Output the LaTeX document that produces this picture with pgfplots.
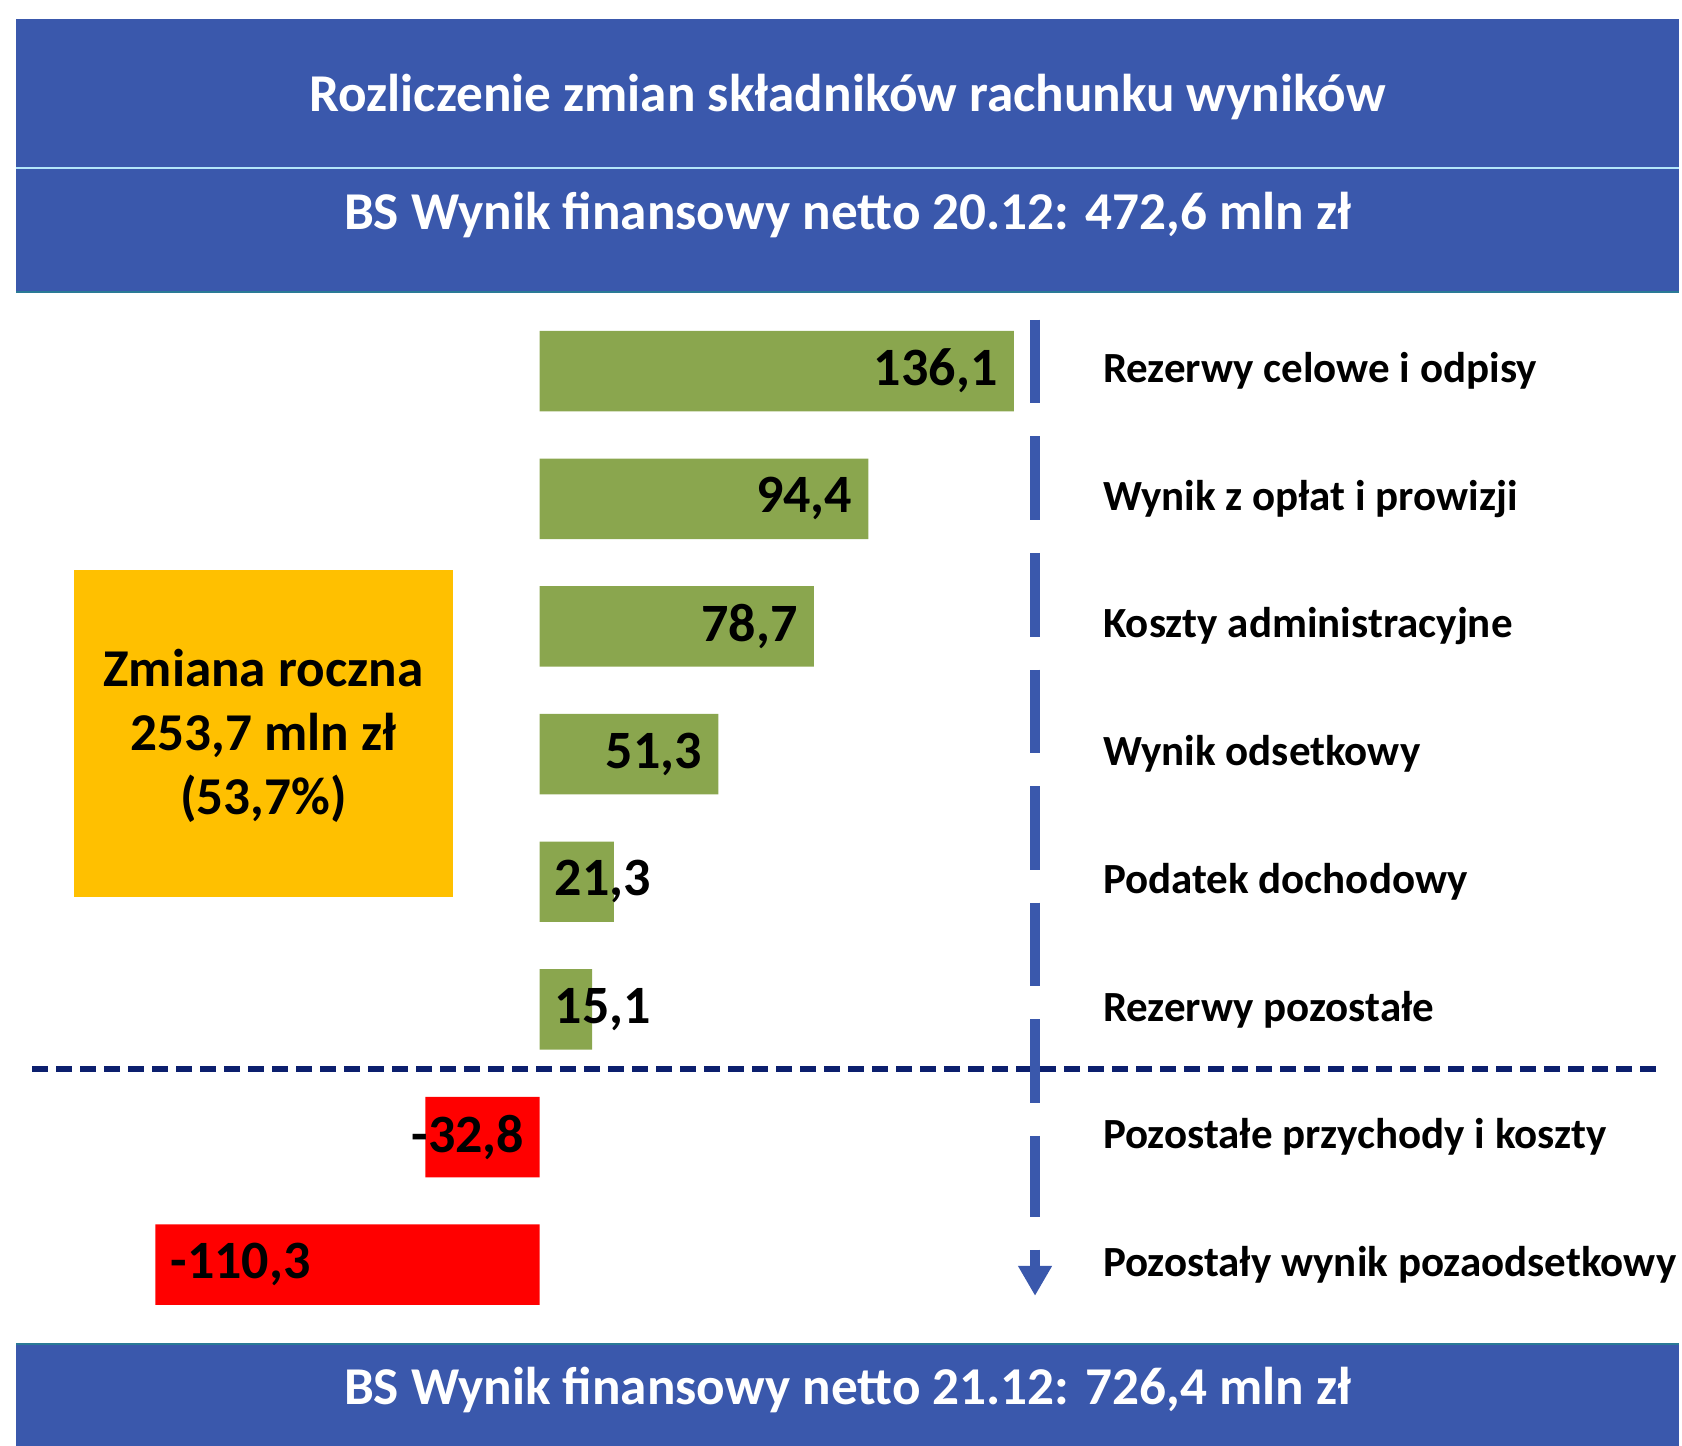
\documentclass[border=0pt]{standalone}
\usepackage{fontspec}
\setmainfont{Carlito}
\usepackage{pgfplots}
\pgfplotsset{compat=1.18}
\usetikzlibrary{arrows.meta}

\definecolor{bandBlue}{HTML}{3A58AC}
\definecolor{barGreen}{HTML}{8AA64E}
\definecolor{barRed}{HTML}{FF0000}
\definecolor{navy}{HTML}{0C1F6E}
\definecolor{boxOrange}{HTML}{FFC000}
\definecolor{edgeTeal}{HTML}{2A7A96}

\begin{document}
\begin{tikzpicture}
\begin{axis}[
    width=841pt, height=723pt, scale only axis,
    hide axis, clip=false,
    xmin=-154.87, xmax=327.89,
    ymin=-1.9076, ymax=9.4202,
    y dir=reverse,
    bar width=0.63, bar shift=0pt,
]
% bounding box
\path (rel axis cs:0,0) rectangle (rel axis cs:1,1);

% header / footer bands
\fill[bandBlue] (axis cs:-150.25,-1.756) rectangle (axis cs:326.97,0.378);
\draw[white!70!cyan, line width=1pt] (axis cs:-150.25,-0.588) -- (axis cs:326.97,-0.588);
\draw[edgeTeal, line width=1.2pt] (axis cs:-150.25,0.378) -- (axis cs:326.97,0.378);
\fill[bandBlue] (axis cs:-150.25,8.622) rectangle (axis cs:326.97,9.4202);
\draw[edgeTeal, line width=1.2pt] (axis cs:-150.25,8.622) -- (axis cs:326.97,8.622);
\node[white, font=\fontsize{26.6}{30}\selectfont\bfseries] at (axis cs:88.4,-1.151) {Rozliczenie zmian składników rachunku wyników};
\node[white, font=\fontsize{26.6}{30}\selectfont\bfseries] at (axis cs:88.4,-0.227) {BS Wynik finansowy netto 20.12: 472,6 mln zł};
\node[white, font=\fontsize{26.6}{30}\selectfont\bfseries] at (axis cs:88.4,8.983) {BS Wynik finansowy netto 21.12: 726,4 mln zł};

% bars
\addplot[xbar, fill=barGreen, draw=none] coordinates {(136.1,1) (94.4,2) (78.7,3) (51.3,4) (21.3,5) (15.1,6)};
\addplot[xbar, fill=barRed, draw=none] coordinates {(-32.8,7) (-110.3,8)};

% value labels
\begin{scope}[every node/.style={font=\fontsize{27}{30}\selectfont\bfseries, inner sep=0pt}]
\node[anchor=east, xshift=-8pt] at (axis cs:136.1,1) {136,1};
\node[anchor=east, xshift=-8pt] at (axis cs:94.4,2) {94,4};
\node[anchor=east, xshift=-8pt] at (axis cs:78.7,3) {78,7};
\node[anchor=east, xshift=-8pt] at (axis cs:51.3,4) {51,3};
\node[anchor=west, xshift=7.5pt] at (axis cs:0,5) {21,3};
\node[anchor=west, xshift=7.5pt] at (axis cs:0,6) {15,1};
\node[anchor=east, xshift=-7.5pt] at (axis cs:0,7) {-32,8};
\node[anchor=west, xshift=7.5pt] at (axis cs:-110.3,8) {-110,3};
\end{scope}

% separator line
\draw[navy, line width=3pt, dash pattern=on 8pt off 4pt] (axis cs:-145.6,6.468) -- (axis cs:320.8,6.468);

% vertical arrow
\draw[bandBlue, line width=5pt, dash pattern=on 41.8pt off 16.5pt] (axis cs:142.2,0.597) -- (axis cs:142.2,7.63);
\draw[bandBlue, line width=5pt, -{Triangle[width=16pt,length=15pt]}] (axis cs:142.2,7.882) -- (axis cs:142.2,8.244);

% category labels
\begin{scope}[every node/.style={font=\fontsize{21.5}{24}\selectfont\bfseries, anchor=west, inner sep=0pt}]
\node at (axis cs:161.6,1) {Rezerwy celowe i odpisy};
\node at (axis cs:161.6,2) {Wynik z opłat i prowizji};
\node at (axis cs:161.6,3) {Koszty administracyjne};
\node at (axis cs:161.6,4) {Wynik odsetkowy};
\node at (axis cs:161.6,5) {Podatek dochodowy};
\node at (axis cs:161.6,6) {Rezerwy pozostałe};
\node at (axis cs:161.6,7) {Pozostałe przychody i koszty};
\node at (axis cs:161.6,8) {Pozostały wynik pozaodsetkowy};
\end{scope}

% annual change box
\fill[boxOrange] (axis cs:-133.6,2.555) rectangle (axis cs:-24.9,5.118);
\node[align=center, font=\fontsize{26.6}{31.9}\selectfont\bfseries] at (axis cs:-79.3,3.857) {Zmiana roczna\\253,7 mln zł\\(53,7\%)};
\end{axis}
\end{tikzpicture}
\end{document}
